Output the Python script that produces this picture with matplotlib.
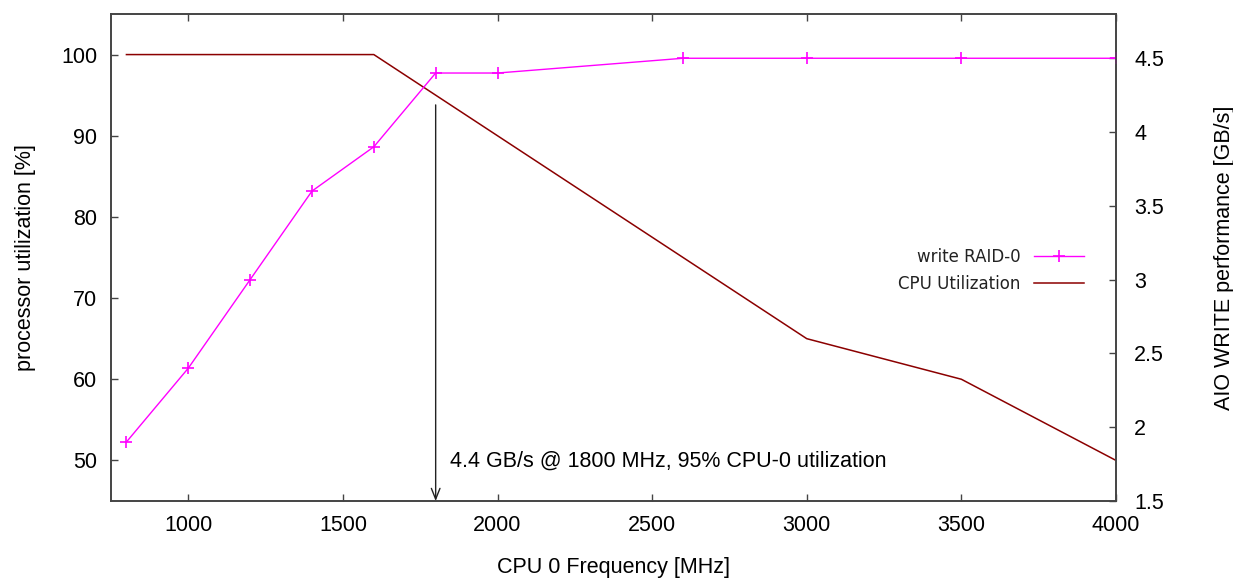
import numpy as np
import matplotlib
matplotlib.use("Agg")
import matplotlib.pyplot as plt
from matplotlib.ticker import FormatStrFormatter

# CPU 0 frequency [MHz]
freq = [800, 1000, 1200, 1400, 1600, 1800, 2000, 2600, 3000, 3500, 4000]
# AIO write throughput, RAID-0 [GB/s]
write_raid0 = [1.9, 2.4, 3.0, 3.6, 3.9, 4.4, 4.4, 4.5, 4.5, 4.5, 4.5]
# CPU utilization [%]
cpu_util = [100, 100, 100, 100, 100, 95, 90, 75, 65, 60, 50]

note = "4.4 GB/s @ 1800 MHz, 95% CPU-0 utilization"

plt.rcParams["font.family"] = ["Liberation Sans", "DejaVu Sans"]
plt.rcParams["font.size"] = 15.5

fig = plt.figure(figsize=(12.33, 5.78), dpi=100)
ax = fig.add_axes([0.090, 0.1332, 0.8151, 0.8426])
ax2 = ax.twinx()

spine_col = "#444444"
for a in (ax, ax2):
    for s in a.spines.values():
        s.set_color(spine_col)
        s.set_linewidth(1.2)

# right axis: write throughput
l1, = ax2.plot(freq, write_raid0, color="#ff00ff", lw=1.0, marker="+",
               markersize=9, markeredgewidth=1.2, label="write RAID-0")
# left axis: cpu utilization
l2, = ax.plot(freq, cpu_util, color="#8b0000", lw=1.1, label="CPU Utilization")

ax.set_xlim(750, 4000)
ax.set_ylim(45, 105)
ax2.set_ylim(1.5, 4.8)

ax.set_xticks([1000, 1500, 2000, 2500, 3000, 3500, 4000])
ax.set_yticks([50, 60, 70, 80, 90, 100])
ax2.set_yticks([1.5, 2, 2.5, 3, 3.5, 4, 4.5])
ax2.yaxis.set_major_formatter(FormatStrFormatter("%g"))

ax.tick_params(axis="x", direction="in", top=True, length=5, width=1, color=spine_col, pad=10)
ax.tick_params(axis="y", direction="in", right=False, length=5, width=1, color=spine_col, pad=10)
ax2.tick_params(axis="y", direction="in", length=5, width=1, color=spine_col, pad=13)

ax.set_xlabel("CPU 0 Frequency [MHz]", labelpad=15)
ax.set_ylabel("processor utilization [%]", labelpad=18)
ax2.set_ylabel("AIO WRITE performance [GB/s]", labelpad=36)

# annotation arrow at 1800 MHz
ax.annotate("", xy=(1800, 45), xytext=(1800, 93.8),
            arrowprops=dict(arrowstyle="->,head_length=0.5,head_width=0.2",
                            color="#222222", lw=1.0, shrinkA=0, shrinkB=0))
ax.text(1845, 49.9, note, ha="left", va="center", fontsize=15.5)

leg = ax2.legend(handles=[l1, l2], loc="center right", bbox_to_anchor=(0.975, 0.474),
                 frameon=False, markerfirst=False, handlelength=3.0,
                 prop={"family": "DejaVu Sans", "size": 12}, labelspacing=0.55,
                 borderaxespad=0, handletextpad=0.8)
for t in leg.get_texts():
    t.set_color("#222222")

fig.savefig("out.png", dpi=100)
